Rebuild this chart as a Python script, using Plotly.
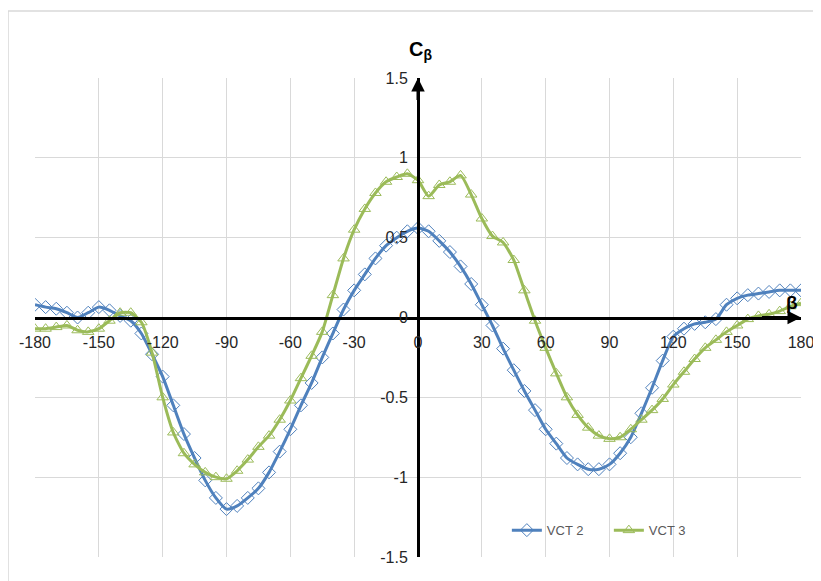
import plotly.graph_objects as go

beta = [-180, -175, -170, -165, -160, -155, -150, -145, -140, -135, -130, -125,
        -120, -115, -110, -105, -100, -95, -90, -85, -80, -75, -70, -65,
        -60, -55, -50, -45, -40, -35, -30, -25, -20, -15, -10, -5,
        0, 5, 10, 15, 20, 25, 30, 35, 40, 45, 50, 55,
        60, 65, 70, 75, 80, 85, 90, 95, 100, 105, 110, 115,
        120, 125, 130, 135, 140, 145, 150, 155, 160, 165, 170, 175, 180]

vct2 = [0.08, 0.065, 0.055, 0.03, 0.00, 0.03, 0.065, 0.045, 0.01, -0.02, -0.10, -0.23,
        -0.37, -0.55, -0.73, -0.88, -1.02, -1.13, -1.20, -1.18, -1.13, -1.07, -0.97, -0.84,
        -0.70, -0.55, -0.41, -0.25, -0.10, 0.05, 0.17, 0.27, 0.37, 0.45, 0.50, 0.54,
        0.56, 0.54, 0.48, 0.41, 0.32, 0.21, 0.08, -0.05, -0.195, -0.33, -0.46, -0.58,
        -0.70, -0.79, -0.88, -0.92, -0.95, -0.95, -0.92, -0.85, -0.75, -0.60, -0.44, -0.27,
        -0.12, -0.07, -0.04, -0.03, -0.01, 0.08, 0.12, 0.14, 0.15, 0.16, 0.17, 0.17, 0.17]

vct3 = [-0.07, -0.07, -0.06, -0.05, -0.08, -0.09, -0.07, -0.02, 0.03, 0.03, -0.03, -0.22,
        -0.50, -0.72, -0.85, -0.92, -0.97, -1.00, -1.01, -0.96, -0.89, -0.81, -0.74, -0.64,
        -0.52, -0.38, -0.24, -0.09, 0.14, 0.37, 0.55, 0.68, 0.78, 0.85, 0.88, 0.90,
        0.86, 0.76, 0.83, 0.85, 0.89, 0.77, 0.62, 0.51, 0.47, 0.36, 0.17, -0.02,
        -0.19, -0.35, -0.50, -0.61, -0.69, -0.74, -0.76, -0.75, -0.70, -0.64, -0.58, -0.51,
        -0.42, -0.34, -0.26, -0.19, -0.14, -0.09, -0.05, -0.01, 0.01, 0.02, 0.04, 0.07, 0.09]

x_ticks = [-180, -150, -120, -90, -60, -30, 0, 30, 60, 90, 120, 150, 180]
x_tick_text = ["-180", "-150", "-120", "-90", "-60", "-30", "0", "30", "60", "90", "120", "150", "180"]
y_ticks = [-1.5, -1, -0.5, 0, 0.5, 1, 1.5]
y_tick_text = ["-1.5", "-1", "-0.5", "0", "0.5", "1", "1.5"]

BLUE = "#4F81BD"
GREEN = "#9BBB59"
FONT = "Liberation Sans"
TICK_COLOR = "#262626"

fig = go.Figure()
fig.add_trace(go.Scatter(
    x=beta, y=vct2, name="VCT 2", mode="lines+markers",
    line=dict(color=BLUE, width=3, shape="spline", smoothing=0.6),
    marker=dict(symbol="diamond-open", size=10, color=BLUE, line=dict(width=1, color=BLUE)),
))
fig.add_trace(go.Scatter(
    x=beta, y=vct3, name="VCT 3", mode="lines+markers",
    line=dict(color=GREEN, width=3, shape="spline", smoothing=0.6),
    marker=dict(symbol="triangle-up-open", size=10, color=GREEN, line=dict(width=1, color=GREEN)),
))

fig.update_layout(
    width=813, height=573,
    margin=dict(l=27, r=20, t=70, b=24, autoexpand=False),
    paper_bgcolor="white", plot_bgcolor="white",
    font=dict(family=FONT, size=16, color=TICK_COLOR),
    showlegend=True,
    legend=dict(orientation="h", x=0.616, y=0.056, xanchor="left", yanchor="middle",
                font=dict(family=FONT, size=13, color="#595959"),
                bgcolor="rgba(0,0,0,0)", entrywidth=57, entrywidthmode="pixels",
                itemwidth=30, tracegroupgap=0),
    xaxis=dict(range=[-180, 180], tickvals=x_ticks, ticktext=x_tick_text, showgrid=True,
               gridcolor="#D9D9D9", gridwidth=1, zeroline=False, showline=True,
               linecolor="black", linewidth=3, anchor="free", position=0.5, ticks="",
               ticklabelstandoff=9, automargin=False,
               tickfont=dict(family=FONT, size=16, color=TICK_COLOR)),
    yaxis=dict(range=[-1.5, 1.5], tickvals=y_ticks, ticktext=y_tick_text, showgrid=True,
               gridcolor="#D9D9D9", gridwidth=1, zeroline=False, showline=True,
               linecolor="black", linewidth=3, anchor="free", position=0.5, ticks="",
               ticklabelstandoff=6, automargin=False,
               tickfont=dict(family=FONT, size=16, color=TICK_COLOR)),
)

# axis arrowheads
fig.add_annotation(x=0, y=1.5, ax=0, ay=1.3, xref="x", yref="y", axref="x", ayref="y",
                   showarrow=True, arrowhead=2, arrowsize=0.9, arrowwidth=3,
                   arrowcolor="black", text=" ")
fig.add_annotation(x=180, y=0, ax=160, ay=0, xref="x", yref="y", axref="x", ayref="y",
                   showarrow=True, arrowhead=2, arrowsize=0.9, arrowwidth=3,
                   arrowcolor="black", text=" ")

# axis titles
fig.add_annotation(x=0.5, y=1.0, xref="paper", yref="paper", yanchor="middle",
                   yshift=28, xshift=2,
                   text="<b>C<sub>β</sub></b>", showarrow=False,
                   font=dict(family=FONT, size=20, color="black"))
fig.add_annotation(x=180, y=0, xref="x", yref="y", xshift=-9, yshift=15,
                   text="<b>β</b>", showarrow=False,
                   font=dict(family=FONT, size=19, color="black"))

# chart outer border
fig.add_shape(type="rect", xref="paper", yref="paper",
              x0=-0.0352, x1=1.05, y0=-0.08, y1=1.14,
              line=dict(color="#D9D9D9", width=1.5), layer="below")

fig.write_html("out.html")
